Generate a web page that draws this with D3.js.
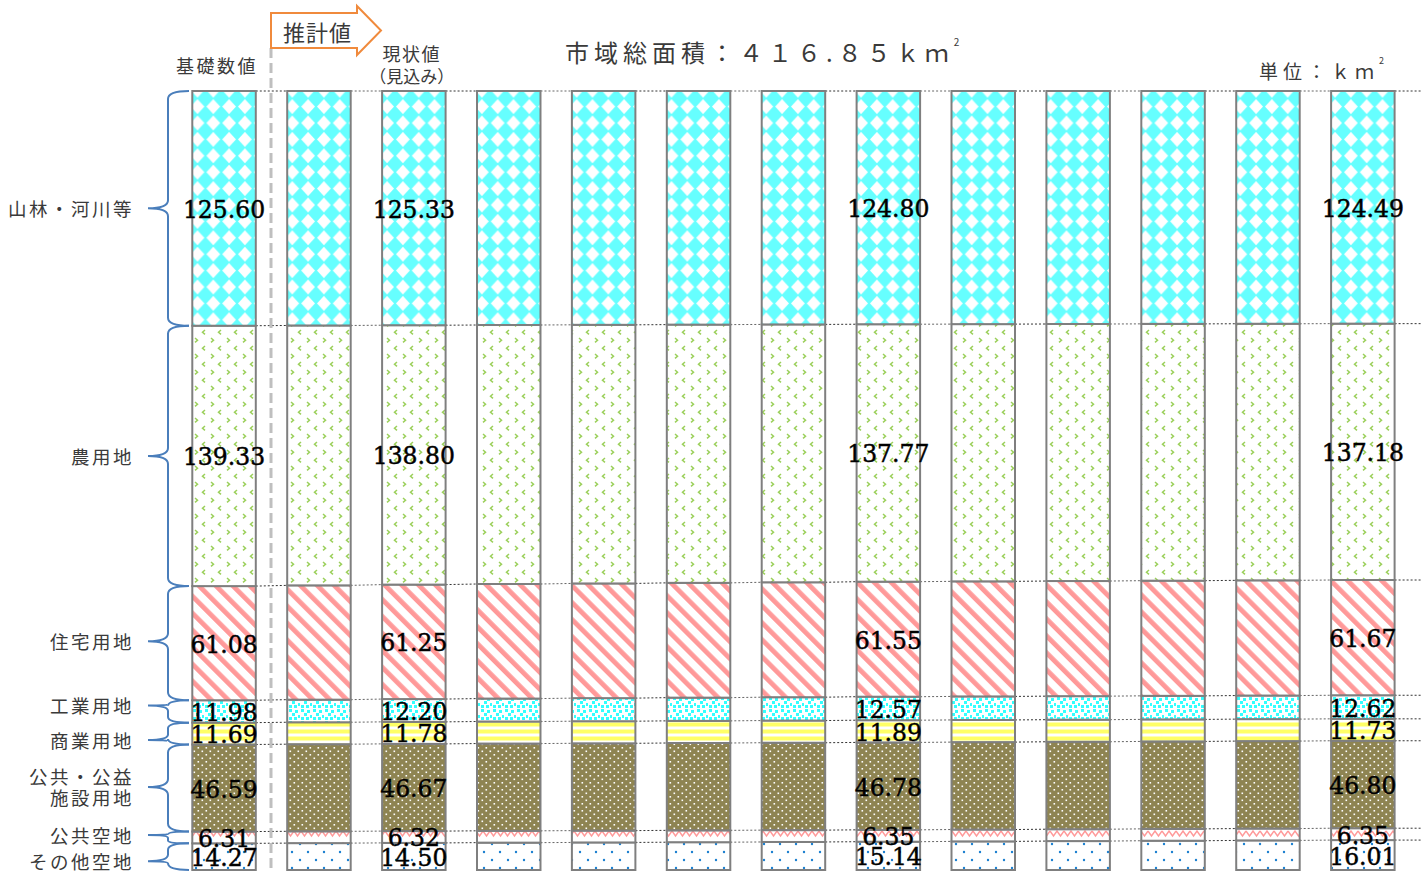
<!DOCTYPE html>
<html><head><meta charset="utf-8">
<script src="https://cdn.jsdelivr.net/npm/d3@7"></script>
<style>
html,body{margin:0;padding:0;background:#fff;}
svg{display:block;}
.jp{font-family:"Noto Sans CJK JP","Noto Sans",sans-serif;fill:#3a3a3a;}
.num{font-family:"DejaVu Serif","Liberation Serif",serif;fill:#000;stroke:#000;stroke-width:0.45;}
</style></head>
<body>
<svg id="chart" width="1422" height="873"></svg>
<script>
// ---- data ----
const barIndex = [0,1,2,3,4,5,6,7,8,9,10,11,12];
const categories = ["その他空地","公共空地","公共・公益施設用地","商業用地","工業用地","住宅用地","農用地","山林・河川等"]; // bottom -> top
const otherOpen      = [14.27,14.39,14.50,14.64,14.74,14.88,15.00,15.14,15.31,15.48,15.66,15.83,16.01];
const publicOpen     = [6.31,6.31,6.32,6.33,6.33,6.34,6.34,6.35,6.35,6.35,6.35,6.35,6.35];
const publicFacility = [46.59,46.63,46.67,46.69,46.72,46.74,46.76,46.78,46.78,46.79,46.79,46.80,46.80];
const commercial     = [11.69,11.73,11.78,11.80,11.83,11.85,11.87,11.89,11.86,11.82,11.79,11.76,11.73];
const industrial     = [11.98,12.09,12.20,12.27,12.35,12.42,12.50,12.57,12.58,12.59,12.60,12.61,12.62];
const residential    = [61.08,61.16,61.25,61.31,61.37,61.43,61.49,61.55,61.58,61.60,61.63,61.65,61.67];
const farmland       = [139.33,139.07,138.80,138.59,138.39,138.18,137.98,137.77,137.65,137.54,137.42,137.30,137.18];
const forest         = [125.60,125.47,125.33,125.22,125.12,125.01,124.91,124.80,124.74,124.68,124.61,124.55,124.49];
const seriesValues = [otherOpen,publicOpen,publicFacility,commercial,industrial,residential,farmland,forest];
const labeledBars = [0,2,7,12];
const totalArea = 416.85;
const titleText = "市域総面積：４１６.８５ｋｍ";
const unitText = "単位：ｋｍ";

// ---- layout ----
const svg = d3.select("#chart");
const x = d3.scaleBand().domain(barIndex).range([192.3,1394.6]).paddingInner(0.331).paddingOuter(0);
const y = d3.scaleLinear().domain([0,totalArea]).range([870,91]);
const bw = x.bandwidth();

// ---- patterns ----
const defs = svg.append("defs");
function pat(id,w,h,tr){const p=defs.append("pattern").attr("id",id).attr("patternUnits","userSpaceOnUse").attr("width",w).attr("height",h);if(tr)p.attr("patternTransform",tr);return p;}
let p;
p=pat("p7",15.8,16.4); p.append("rect").attr("width",15.8).attr("height",16.4).attr("fill","#66FFFF");
p.append("path").attr("d","M7.9,0.8 L14.8,8.2 L7.9,15.6 L1.0,8.2 Z").attr("fill","#fff");
p=pat("p6",16,16); p.append("rect").attr("width",16).attr("height",16).attr("fill","#fff");
p.append("path").attr("d","M3,2 L5.5,4.2 L3,6.4 M13,10 L10.5,12.2 L13,14.4").attr("fill","none").attr("stroke","#9BD05A").attr("stroke-width",1.5);
p=pat("p5",12,12,"rotate(-45)"); p.append("rect").attr("width",12).attr("height",12).attr("fill","#fff");
p.append("rect").attr("width",4.8).attr("height",12).attr("fill","#FF9999");
p=pat("p4",12,12); p.append("rect").attr("width",12).attr("height",12).attr("fill","#fff");
[[1,1],[7,2],[4,5],[10,7],[1,9],[6,9]].forEach(d=>p.append("rect").attr("x",d[0]).attr("y",d[1]).attr("width",3).attr("height",3).attr("fill","#33FFFF"));
p=pat("p3",8,7); p.append("rect").attr("width",8).attr("height",7).attr("fill","#fff");
p.append("rect").attr("y",1.5).attr("width",8).attr("height",4).attr("fill","#FFFF66");
p=pat("p2",8,7); p.append("rect").attr("width",8).attr("height",7).attr("fill","#8E8452");
p.append("rect").attr("x",1.5).attr("y",1.5).attr("width",1.6).attr("height",1.6).attr("fill","#fff");
p.append("rect").attr("x",5.5).attr("y",5).attr("width",1.6).attr("height",1.6).attr("fill","#fff");
p=pat("p1",14,12); p.append("rect").attr("width",14).attr("height",12).attr("fill","#fff");
p.append("path").attr("d","M0,3 L3.5,8 L7,3 L10.5,8 L14,3").attr("fill","none").attr("stroke","#FF9999").attr("stroke-width",1.4);
p=pat("p0",16,16); p.append("rect").attr("width",16).attr("height",16).attr("fill","#fff");
p.append("circle").attr("cx",4).attr("cy",4).attr("r",1.2).attr("fill","#1A7FD0");
p.append("circle").attr("cx",12).attr("cy",12).attr("r",1.2).attr("fill","#1A7FD0");

// ---- stack ----
const rows = barIndex.map(i=>{const o={i};seriesValues.forEach((s,k)=>o[k]=s[i]);return o;});
const stack = d3.stack().keys(seriesValues.map((_,k)=>k))(rows);

// dotted connectors
const conn = svg.append("g");
for(let k=0;k<stack.length;k++){
  for(let i=0;i<barIndex.length;i++){
    const y1=y(stack[k][i][1]);
    const x1=x(i)+bw;
    let x2,y2;
    if(i<barIndex.length-1){x2=x(i+1);y2=y(stack[k][i+1][1]);} else {x2=1422;y2=y1;}
    conn.append("line").attr("x1",x1).attr("y1",y1).attr("x2",x2).attr("y2",y2)
      .attr("stroke",(i%2)?"#666":"#333").attr("stroke-width",1).attr("stroke-dasharray","2,2");
  }
}

// bars
const gBars = svg.append("g");
stack.forEach((layer,k)=>{
  gBars.selectAll(null).data(layer).join("rect")
    .attr("x",(d,i)=>x(i)).attr("width",bw)
    .attr("y",d=>y(d[1])).attr("height",d=>y(d[0])-y(d[1]))
    .attr("fill",`url(#p${k})`).attr("stroke","#7F7F7F").attr("stroke-width",2);
});

// value labels
const gLab = svg.append("g");
stack.forEach((layer,k)=>{
  gLab.selectAll(null).data(layer.filter((d,i)=>labeledBars.includes(i))).join("text")
    .attr("class","num")
    .attr("x",d=>x(d.data.i)+bw/2)
    .attr("y",d=>(y(d[0])+y(d[1]))/2+1.5)
    .attr("text-anchor","middle").attr("dominant-baseline","central")
    .attr("font-size",23.5)
    .text(d=>seriesValues[k][d.data.i].toFixed(2));
});

// dashed divider
svg.append("line").attr("x1",271).attr("x2",271).attr("y1",48).attr("y2",873)
  .attr("stroke","#BFBFBF").attr("stroke-width",3).attr("stroke-dasharray","10,5");

// arrow
svg.append("path").attr("d","M271,13 L357,13 L357,6 L381,30.5 L357,55 L357,48 L271,48 Z")
  .attr("fill","#fff").attr("stroke","#F08A3C").attr("stroke-width",2);
svg.append("text").attr("class","jp").attr("x",283).attr("y",31).attr("dominant-baseline","central")
  .attr("font-size",22).attr("letter-spacing",1).text("推計値");

// column headers
svg.append("text").attr("class","jp").attr("x",217).attr("y",65).attr("text-anchor","middle")
  .attr("dominant-baseline","central").attr("font-size",18).attr("letter-spacing",2.5).text("基礎数値");
svg.append("text").attr("class","jp").attr("x",x(2)+bw/2-2).attr("y",53).attr("text-anchor","middle")
  .attr("dominant-baseline","central").attr("font-size",18).attr("letter-spacing",1.5).text("現状値");
svg.append("text").attr("class","jp").attr("x",x(2)+bw/2-2).attr("y",75).attr("text-anchor","middle")
  .attr("dominant-baseline","central").attr("font-size",17).text("（見込み）");

// title
const t = svg.append("text").attr("class","jp").attr("x",565).attr("y",51).attr("dominant-baseline","central")
  .attr("font-size",24).attr("letter-spacing",5);
t.append("tspan").text(titleText);
t.append("tspan").attr("font-size",10).attr("dy",-10).attr("letter-spacing",0).text("2");
const u = svg.append("text").attr("class","jp").attr("x",1259).attr("y",70).attr("dominant-baseline","central")
  .attr("font-size",19).attr("letter-spacing",5);
u.append("tspan").text(unitText);
u.append("tspan").attr("font-size",9).attr("dy",-10).attr("letter-spacing",0).text("2");

// braces and category labels (bar 0 segments)
const tipShift = [4.5,-2.5,-1,6.5,-6,-2,0,0];
const gB = svg.append("g");
stack.forEach((layer,k)=>{
  const top=y(layer[0][1]), bot=y(layer[0][0]);
  const tip=(top+bot)/2+tipShift[k];
  const xe=189, xv=168, xt=148;
  const r=Math.min(8,(bot-top)/4);
  const r1=Math.min(r,tip-top-r), r2=Math.min(r,bot-tip-r);
  const d=`M${xe},${top} Q${xv},${top} ${xv},${top+r} L${xv},${tip-Math.max(r1,1)} Q${xv},${tip} ${xt},${tip} Q${xv},${tip} ${xv},${tip+Math.max(r2,1)} L${xv},${bot-r} Q${xv},${bot} ${xe},${bot}`;
  gB.append("path").attr("d",d).attr("fill","none").attr("stroke","#4A7EBB").attr("stroke-width",2);
  const name=categories[k];
  if(name==="公共・公益施設用地"){
    const tx=gB.append("text").attr("class","jp").attr("text-anchor","end").attr("font-size",18.5).attr("letter-spacing",2.5);
    tx.append("tspan").attr("x",134).attr("y",tip-11).attr("dominant-baseline","central").text("公共・公益");
    tx.append("tspan").attr("x",134).attr("y",tip+10).attr("dominant-baseline","central").text("施設用地");
  } else {
    gB.append("text").attr("class","jp").attr("x",134).attr("y",tip).attr("text-anchor","end")
      .attr("dominant-baseline","central").attr("font-size",18.5).attr("letter-spacing",2.5).text(name);
  }
});
</script>
</body></html>
